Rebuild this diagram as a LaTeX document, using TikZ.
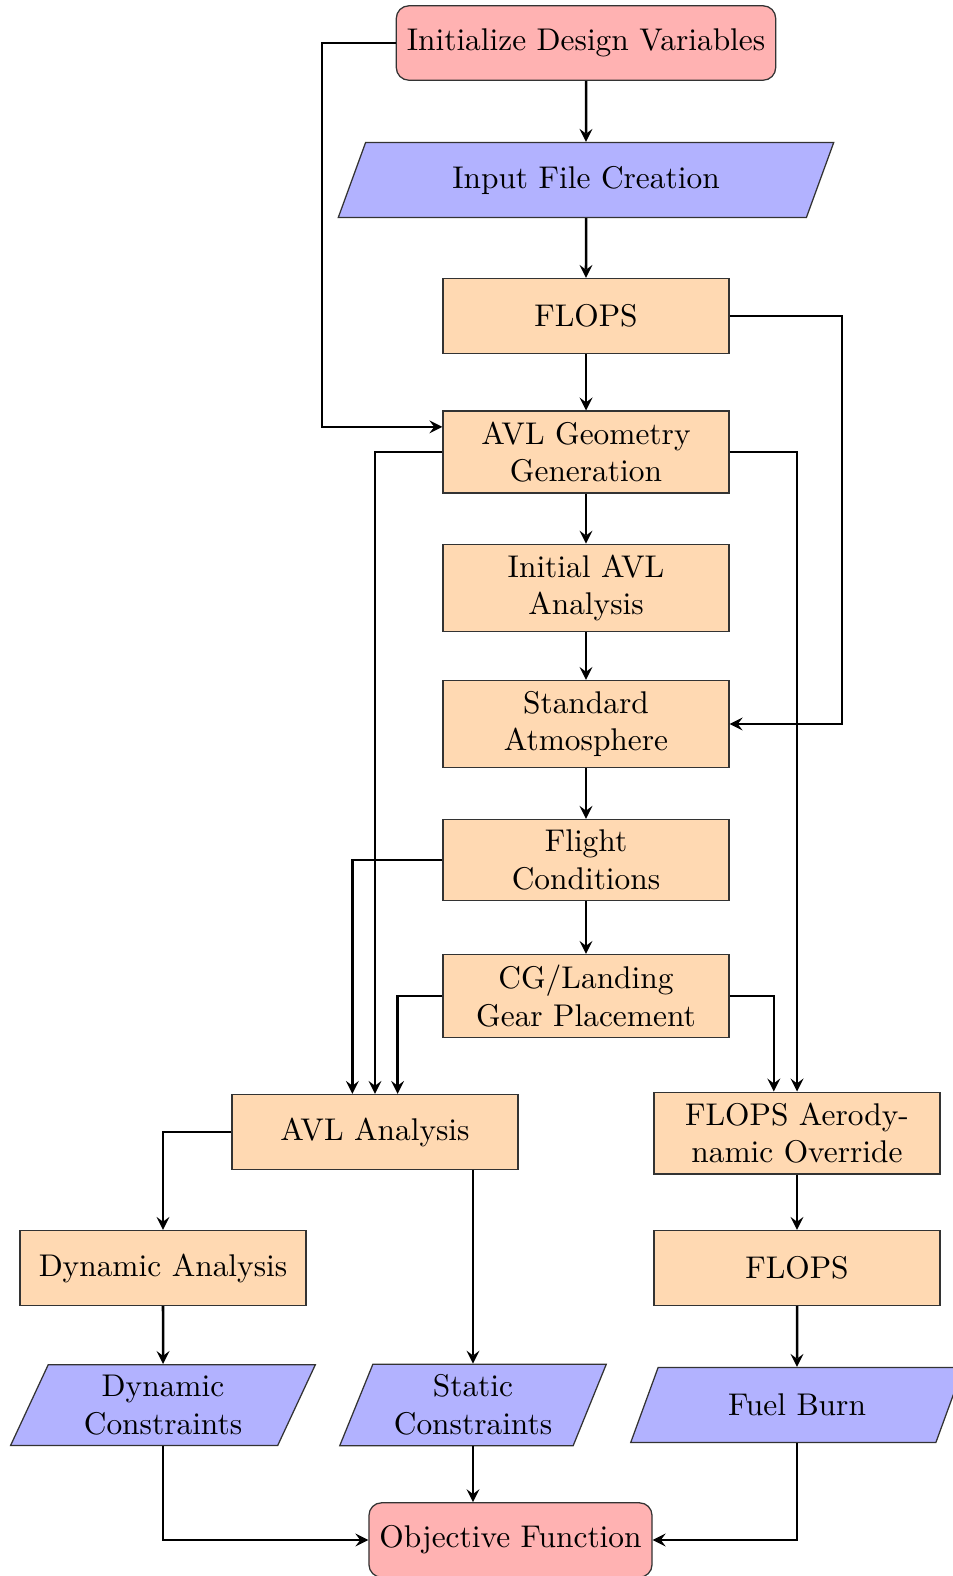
\documentclass[tikz,border=0pt]{standalone}
\usetikzlibrary{shapes.geometric,arrows}
\begin{document}
\begin{tikzpicture}[x=0.3185pt,y=-0.3185pt,
  proc/.style={rectangle, draw=black!80, fill=orange!30, minimum width=91.1pt, minimum height=23.9pt, align=center},
  term/.style={rectangle, rounded corners, draw=black!80, fill=red!30, minimum width=3cm, minimum height=23.7pt, align=center},
  io/.style={trapezium, trapezium left angle=70, trapezium right angle=110, trapezium stretches=true, draw=black!80, fill=blue!30, align=center, minimum height=23.9pt},
  arr/.style={thick, ->, >=stealth}]
\useasboundingbox (0,0) rectangle (952,1576);
\node[term] (init) at (586,43) {Initialize Design Variables};
\node[io, minimum width=158pt] (input) at (586,180) {Input File Creation};
\node[proc] (flops1) at (586,316) {FLOPS};
\node[proc] (geom) at (586,452) {AVL Geometry\\Generation};
\node[proc] (initavl) at (586,588) {Initial AVL\\Analysis};
\node[proc] (std) at (586,724) {Standard\\Atmosphere};
\node[proc] (flight) at (586,860) {Flight\\Conditions};
\node[proc] (cg) at (586,996) {CG/Landing\\Gear Placement};
\node[proc] (avla) at (375,1132) {AVL Analysis};
\node[proc] (aero) at (797,1133) {FLOPS Aerody-\\namic Override};
\node[proc] (dyna) at (163,1268) {Dynamic Analysis};
\node[proc] (flops2) at (797,1268) {FLOPS};
\node[io, minimum width=97.8pt] (dync) at (163,1405) {Dynamic\\Constraints};
\node[io, minimum width=3cm] (statc) at (473,1405) {Static\\Constraints};
\node[io, minimum width=106pt] (fuel) at (797,1405) {Fuel Burn};
\node[term, minimum width=89.5pt] (obj) at (510.5,1540) {Objective Function};
\coordinate (lft) at (322,0);
\coordinate (rgt) at (842,0);
\draw[arr] (init) -- (input);
\draw[arr] (input) -- (flops1);
\draw[arr] (flops1) -- (geom);
\draw[arr] (geom) -- (initavl);
\draw[arr] (initavl) -- (std);
\draw[arr] (std) -- (flight);
\draw[arr] (flight) -- (cg);
\draw[arr] (init.west) -- (init.west -| lft) |- ([yshift=8pt]geom.west);
\draw[arr] (flops1.east) -- (flops1.east -| rgt) |- (std.east);
\draw[arr] (geom.west) -| (avla.north);
\draw[arr] (geom.east) -| (aero.north);
\draw[arr] (flight.west) -| ([xshift=-7.2pt]avla.north);
\draw[arr] (cg.west) -| ([xshift=7.2pt]avla.north);
\draw[arr] (cg.east) -| ([xshift=-7.4pt]aero.north);
\draw[arr] (avla.west) -| (dyna.north);
\draw[arr] (avla.south -| statc.north) -- (statc.north);
\draw[arr] (aero) -- (flops2);
\draw[arr] (flops2) -- (fuel);
\draw[arr] (dyna) -- (dync);
\draw[arr] (statc.south) -- (statc.south |- obj.north);
\draw[arr] (dync.south) |- (obj.west);
\draw[arr] (fuel.south) |- (obj.east);
\end{tikzpicture}
\end{document}
